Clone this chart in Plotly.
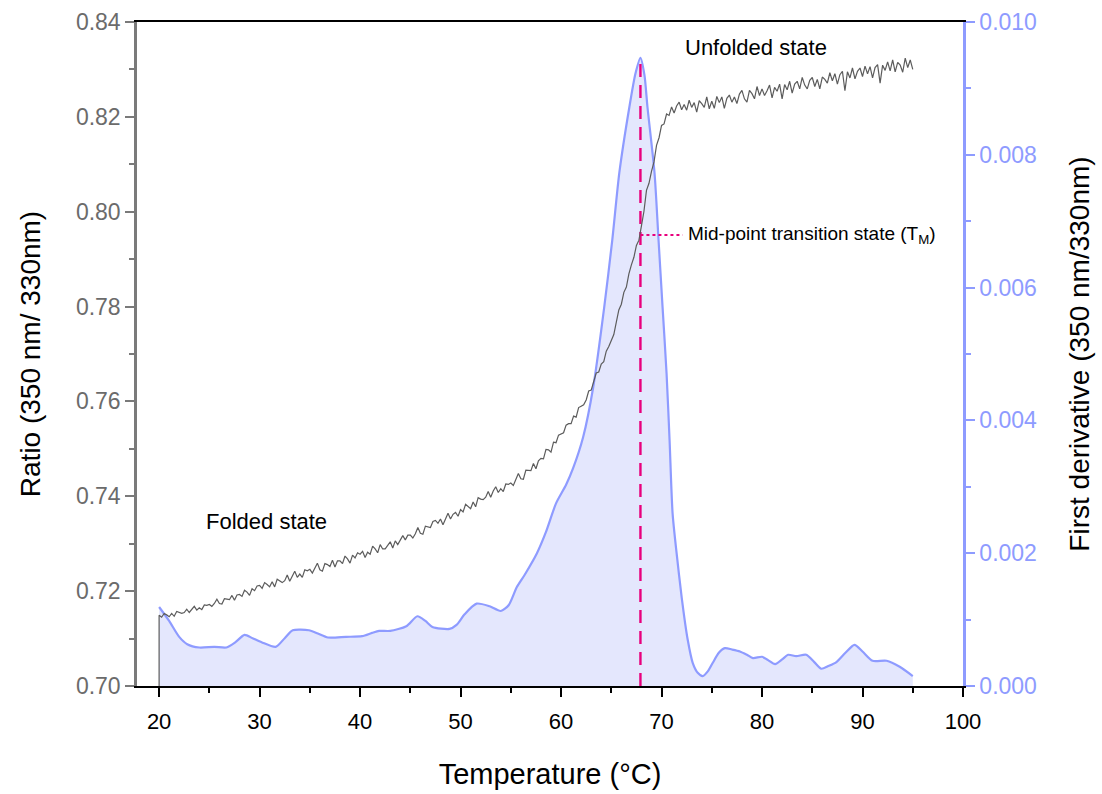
import plotly.graph_objects as go

# ---------------- data ----------------
# Fluorescence ratio 350/330 nm, sampled every 0.25 °C from 20 to 95 °C
ratio_step = 0.25
ratio_t0 = 20.0
ratio = [
    0.7149, 0.7145, 0.7153, 0.7150, 0.7146, 0.7153, 0.7147, 0.7157, 0.7155, 0.7153,
    0.7155, 0.7162, 0.7155, 0.7162, 0.7168, 0.7160, 0.7165, 0.7161, 0.7171, 0.7170,
    0.7172, 0.7168, 0.7174, 0.7183, 0.7174, 0.7173, 0.7184, 0.7183, 0.7182, 0.7191,
    0.7181, 0.7192, 0.7193, 0.7189, 0.7202, 0.7198, 0.7191, 0.7205, 0.7201, 0.7211,
    0.7212, 0.7206, 0.7218, 0.7214, 0.7209, 0.7220, 0.7209, 0.7225, 0.7222, 0.7218,
    0.7222, 0.7234, 0.7221, 0.7233, 0.7242, 0.7229, 0.7236, 0.7229, 0.7245, 0.7243,
    0.7246, 0.7238, 0.7247, 0.7259, 0.7245, 0.7242, 0.7258, 0.7256, 0.7252, 0.7265,
    0.7251, 0.7264, 0.7264, 0.7258, 0.7274, 0.7268, 0.7259, 0.7276, 0.7270, 0.7281,
    0.7278, 0.7284, 0.7271, 0.7282, 0.7278, 0.7295, 0.7289, 0.7281, 0.7298, 0.7289,
    0.7289, 0.7296, 0.7304, 0.7291, 0.7306, 0.7298, 0.7308, 0.7317, 0.7308, 0.7318,
    0.7318, 0.7312, 0.7321, 0.7334, 0.7322, 0.7320, 0.7337, 0.7336, 0.7334, 0.7347,
    0.7349, 0.7343, 0.7352, 0.7340, 0.7353, 0.7364, 0.7352, 0.7362, 0.7366, 0.7358,
    0.7372, 0.7367, 0.7383, 0.7379, 0.7374, 0.7388, 0.7378, 0.7397, 0.7394, 0.7393,
    0.7398, 0.7410, 0.7398, 0.7411, 0.7420, 0.7408, 0.7416, 0.7410, 0.7426, 0.7425,
    0.7428, 0.7423, 0.7434, 0.7448, 0.7437, 0.7436, 0.7455, 0.7455, 0.7454, 0.7469,
    0.7458, 0.7475, 0.7480, 0.7479, 0.7499, 0.7498, 0.7493, 0.7514, 0.7513, 0.7529,
    0.7532, 0.7534, 0.7550, 0.7553, 0.7553, 0.7569, 0.7567, 0.7587, 0.7590, 0.7593,
    0.7603, 0.7622, 0.7624, 0.7643, 0.7660, 0.7662, 0.7679, 0.7684, 0.7706, 0.7716,
    0.7730, 0.7741, 0.7767, 0.7793, 0.7805, 0.7830, 0.7841, 0.7869, 0.7888, 0.7904,
    0.7929, 0.7940, 0.7970, 0.8001, 0.8045, 0.8060, 0.8085, 0.8105, 0.8140, 0.8156,
    0.8182, 0.8185, 0.8206, 0.8203, 0.8221, 0.8208, 0.8223, 0.8231, 0.8215, 0.8226,
    0.8214, 0.8235, 0.8220, 0.8230, 0.8210, 0.8234, 0.8228, 0.8220, 0.8242, 0.8217,
    0.8233, 0.8218, 0.8243, 0.8230, 0.8242, 0.8218, 0.8239, 0.8246, 0.8231, 0.8242,
    0.8228, 0.8248, 0.8256, 0.8238, 0.8231, 0.8256, 0.8249, 0.8238, 0.8264, 0.8245,
    0.8259, 0.8245, 0.8255, 0.8267, 0.8240, 0.8262, 0.8254, 0.8269, 0.8238, 0.8268,
    0.8257, 0.8275, 0.8250, 0.8269, 0.8275, 0.8259, 0.8283, 0.8267, 0.8259, 0.8277,
    0.8283, 0.8264, 0.8279, 0.8259, 0.8284, 0.8279, 0.8271, 0.8293, 0.8276, 0.8291,
    0.8269, 0.8289, 0.8296, 0.8255, 0.8295, 0.8282, 0.8303, 0.8280, 0.8296, 0.8303,
    0.8285, 0.8307, 0.8291, 0.8306, 0.8282, 0.8304, 0.8310, 0.8271, 0.8309, 0.8298,
    0.8316, 0.8297, 0.8320, 0.8295, 0.8315, 0.8309, 0.8294, 0.8324, 0.8304, 0.8320,
    0.8300,
]
ratio_temp = [ratio_t0 + ratio_step * i for i in range(len(ratio))]
# the recorded trace starts from the baseline value at the first temperature
ratio_baseline = 0.700

# Smoothed first derivative of the ratio
deriv_temp = [
    20.0, 21.0, 22.0, 22.8, 24.0, 25.5, 26.7, 27.6, 28.5, 29.3,
    30.2, 31.6, 32.5, 33.3, 34.9, 35.8, 36.8, 38.6, 40.2, 41.2,
    41.9, 43.0, 44.6, 45.7, 46.5, 47.2, 48.9, 49.6, 50.4, 51.6,
    52.9, 54.0, 54.8, 55.6, 56.4, 57.6, 58.5, 59.5, 60.5, 61.2,
    62.2, 63.2, 64.3, 65.1, 65.8, 66.8, 67.4, 67.9, 68.3, 68.6,
    69.3, 69.7, 70.1, 70.5, 70.8, 71.1, 71.5, 72.0, 72.6, 73.1,
    73.6, 74.1, 74.6, 75.1, 75.7, 76.3, 77.0, 77.8, 78.5, 79.1,
    80.0, 80.6, 81.3, 82.0, 82.6, 83.4, 84.4, 85.2, 85.9, 86.6,
    87.4, 88.3, 89.2, 90.0, 91.0, 92.4, 93.7, 95.0,
]
deriv = [
    0.00119, 0.00098, 0.00074, 0.00063, 0.00058, 0.00059, 0.00058, 0.00066, 0.00077, 0.00072,
    0.00066, 0.00059, 0.00072, 0.00084, 0.00084, 0.00079, 0.00073, 0.00074, 0.00075, 0.00080,
    0.00083, 0.00083, 0.00090, 0.00105, 0.00098, 0.00089, 0.00086, 0.00092, 0.00108, 0.00124,
    0.00120, 0.00113, 0.00122, 0.00149, 0.00168, 0.00200, 0.00232, 0.00275, 0.00303, 0.00328,
    0.00375, 0.00450, 0.00571, 0.00672, 0.00773, 0.00872, 0.00922, 0.00946, 0.00920, 0.00872,
    0.00773, 0.00672, 0.00571, 0.00471, 0.00370, 0.00260, 0.00200, 0.00134, 0.00070, 0.00035,
    0.00020, 0.00015, 0.00022, 0.00035, 0.00050, 0.00057, 0.00055, 0.00052, 0.00047, 0.00042,
    0.00044, 0.00039, 0.00033, 0.00040, 0.00047, 0.00045, 0.00047, 0.00036, 0.00026, 0.00030,
    0.00036, 0.00050, 0.00062, 0.00052, 0.00038, 0.00038, 0.00029, 0.00015,
]

# Mid-point transition (T_M): maximum of the derivative
tm_index = deriv.index(max(deriv))
tm_temp = deriv_temp[tm_index]
tm_peak = deriv[tm_index]
tm_ratio = 0.7951
tm_label_temp = 72.1

x_ticks = [20, 30, 40, 50, 60, 70, 80, 90, 100]
ratio_ticks = [0.70, 0.72, 0.74, 0.76, 0.78, 0.80, 0.82, 0.84]
deriv_ticks = [0.000, 0.002, 0.004, 0.006, 0.008, 0.010]

# ---------------- styling ----------------
FONT = "Liberation Sans, Arial, sans-serif"
GRAY = "#6b6b6b"
LAV = "#8e9bff"
LAV_FILL = "rgba(228,231,253,1)"
PINK = "#e8007d"

fig = go.Figure()

# derivative (filled area) on the right axis
fig.add_trace(go.Scatter(
    x=deriv_temp, y=deriv, yaxis="y", mode="lines",
    line=dict(color=LAV, width=2.2, shape="spline", smoothing=0.7),
    fill="tozeroy", fillcolor=LAV_FILL, hoverinfo="skip", showlegend=False,
))

# T_M dashed marker from baseline up to the derivative maximum
fig.add_trace(go.Scatter(
    x=[tm_temp, tm_temp], y=[0, tm_peak], yaxis="y", mode="lines",
    line=dict(color=PINK, width=2.4, dash="13px,8px"),
    hoverinfo="skip", showlegend=False,
))

# ratio trace on the left axis
fig.add_trace(go.Scatter(
    x=[ratio_t0] + ratio_temp, y=[ratio_baseline] + ratio, yaxis="y2", mode="lines",
    line=dict(color="#5c5c5c", width=1.2),
    hoverinfo="skip", showlegend=False,
))

# dotted leader to the T_M label
fig.add_trace(go.Scatter(
    x=[tm_temp, tm_label_temp], y=[tm_ratio, tm_ratio], yaxis="y2", mode="lines",
    line=dict(color=PINK, width=2, dash="dot"),
    hoverinfo="skip", showlegend=False,
))

fig.update_layout(
    width=1102, height=794,
    margin=dict(l=137, r=139, t=22, b=108),
    paper_bgcolor="white", plot_bgcolor="white",
    font=dict(family=FONT, color="black"),
    xaxis=dict(
        range=[17.8, 100], tickvals=x_ticks, ticktext=[str(v) for v in x_ticks],
        showgrid=False, zeroline=False, automargin=False,
        showline=True, linecolor="black", linewidth=2, mirror=True,
        ticks="outside", ticklen=9, tickwidth=2, tickcolor="black",
        ticklabelstandoff=6,
        minor=dict(dtick=5, tick0=0, ticks="outside", ticklen=5, tickwidth=2, tickcolor="black"),
        tickfont=dict(size=22, color="black", family=FONT),
        title=dict(text="Temperature (°C)", font=dict(size=29, color="black", family=FONT), standoff=30),
    ),
    yaxis=dict(
        side="right", range=[0, 0.010], tickvals=deriv_ticks,
        ticktext=[f"{v:.3f}" for v in deriv_ticks],
        showgrid=False, zeroline=False, automargin=False,
        showline=True, linecolor=LAV, linewidth=2.5,
        ticks="outside", ticklen=9, tickwidth=2, tickcolor=LAV,
        minor=dict(dtick=0.001, tick0=0, ticks="outside", ticklen=5, tickwidth=2, tickcolor=LAV),
        tickfont=dict(size=23, color=LAV, family=FONT),
        title=dict(text="First derivative (350 nm/330nm)", font=dict(size=28, color="black", family=FONT), standoff=34),
    ),
    yaxis2=dict(
        side="left", overlaying="y", range=[0.70, 0.84], tickvals=ratio_ticks,
        ticktext=[f"{v:.2f}" for v in ratio_ticks],
        showgrid=False, zeroline=False, automargin=False,
        showline=True, linecolor="#7a7a7a", linewidth=2.5,
        ticks="outside", ticklen=9, tickwidth=2, tickcolor="#7a7a7a",
        minor=dict(dtick=0.01, tick0=0.70, ticks="outside", ticklen=5, tickwidth=2, tickcolor="#7a7a7a"),
        tickfont=dict(size=23, color=GRAY, family=FONT),
        title=dict(text="Ratio (350 nm/ 330nm)", font=dict(size=28, color="black", family=FONT), standoff=28),
    ),
    annotations=[
        dict(x=30.7, y=0.7347, xref="x", yref="y2", text="Folded state",
             showarrow=False, font=dict(size=22, color="black", family=FONT)),
        dict(x=79.4, y=0.8347, xref="x", yref="y2", text="Unfolded state",
             showarrow=False, font=dict(size=22, color="black", family=FONT)),
        dict(x=72.4, y=tm_ratio, xref="x", yref="y2", xanchor="left",
             text="Mid-point transition state (T<sub>M</sub>)",
             showarrow=False, font=dict(size=19, color="black", family=FONT)),
    ],
)

fig.write_html("out.html")
